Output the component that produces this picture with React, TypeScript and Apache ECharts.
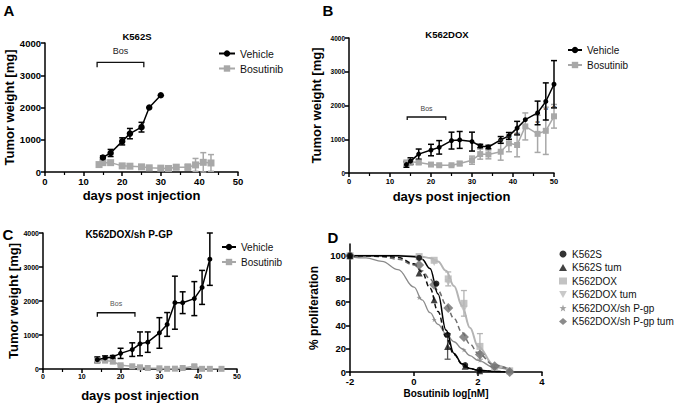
import React, { useEffect, useRef } from 'react';
import * as echarts from 'echarts';

const FONT = '"Liberation Sans", Arial, Helvetica, sans-serif';
const BLACK = '#000000';
const GRAY = '#a8a8a8';

// ---------- Panel A : K562S ----------
const aVehDays = [15, 17, 20, 22, 25, 27, 30];
const aVehMean = [450, 590, 950, 1190, 1390, 2000, 2380];
const aVehErr = [50, 110, 110, 160, 150, 0, 0];
const aBosDays = [14, 15, 17, 20, 22, 25, 27, 30, 32, 34, 37, 39, 41, 43];
const aBosMean = [230, 290, 290, 190, 180, 160, 130, 120, 110, 150, 150, 220, 300, 280];
const aBosErr = [40, 30, 40, 20, 20, 20, 20, 30, 20, 70, 90, 200, 300, 260];
const aBracket = [13.5, 25.6, 3400];

// ---------- Panel B : K562DOX ----------
const bVehDays = [14, 15, 17, 20, 22, 25, 27, 30, 32, 34, 37, 39, 41, 43, 46, 48, 50];
const bVehMean = [250, 350, 560, 680, 760, 960, 980, 930, 800, 770, 980, 1100, 1330, 1580, 1780, 2120, 2630];
const bVehErr = [80, 100, 150, 170, 200, 250, 250, 280, 50, 50, 100, 100, 200, 0, 350, 550, 700];
const bBosDays = [14, 15, 17, 20, 22, 25, 27, 30, 32, 34, 37, 39, 41, 43, 46, 48, 50];
const bBosMean = [300, 330, 310, 250, 230, 230, 280, 380, 560, 550, 630, 880, 830, 1380, 1160, 1250, 1680];
const bBosErr = [80, 60, 50, 20, 20, 20, 60, 120, 150, 130, 250, 250, 350, 400, 550, 700, 350];
const bBracket = [14.2, 23.6, 1660];
const bStarDays = [37, 39, 41, 46, 48, 50];
const bStarY = [960, 1040, 1120, 1480, 1880, 1930];

// ---------- Panel C : K562DOX/sh P-GP ----------
const cVehDays = [14, 16, 18, 20, 23, 25, 27, 30, 32, 34, 36, 39, 41, 43];
const cVehMean = [275, 325, 355, 460, 570, 740, 790, 1060, 1310, 1950, 1950, 2070, 2400, 3230];
const cVehErr = [80, 60, 40, 150, 200, 350, 300, 450, 350, 780, 320, 500, 500, 770];
const cBosDays = [14, 16, 18, 20, 23, 25, 27, 30, 32, 34, 36, 39, 41, 43, 46];
const cBosMean = [250, 250, 220, 110, 80, 50, 30, 20, 5, 10, 30, 80, 5, 5, 5];
const cBosErr = [80, 60, 60, 20, 0, 0, 0, 0, 0, 0, 0, 40, 0, 0, 0];
const cBracket = [14.0, 23.7, 1655];

// ---------- Panel D : dose response ----------
const dK562SConc = [-2, 0.16, 0.7, 1.05, 1.6, 2.05];
const dK562SResp = [100, 98, 76, 32, 6, 2];
const dK562STumConc = [-2, 0.16, 0.63, 1.05, 1.6, 2.05];
const dK562STumResp = [100, 85, 62, 22, 5, 1];
const dK562STumErr = [0, 0, 0, 11, 0, 0];
const dDoxConc = [-2, 0.16, 0.63, 1.07, 1.56, 2.06, 2.52, 2.99];
const dDoxResp = [100, 99, 96, 80, 59, 22, 4, 1];
const dDoxErr = [0, 0, 0, 6, 11, 11, 0, 0];
const dDoxTumConc = [0.16, 0.63, 1.07, 1.56, 2.06];
const dDoxTumResp = [99, 94, 77, 54, 15];
const dShConc = [-2, 0.16, 0.63, 1.07, 1.56, 2.06, 2.52, 2.99];
const dShResp = [99, 64, 45, 32, 19, 10, 4, 1];
const dShTumConc = [-2, 0.16, 0.63, 1.07, 1.56, 2.06, 2.52, 2.99];
const dShTumResp = [100, 92, 75, 55, 30, 15, 5, 0];

// fitted curves at these log concentrations
const dFitX = [-2, -1.5, -1, -0.5, 0, 0.25, 0.5, 0.75, 1, 1.25, 1.5, 1.75, 2, 2.5, 3];
const dFitK562S = [100, 100, 100, 99.8, 99, 97, 89, 67, 36, 16, 7, 3, 1.5, 0.5, 0];
const dFitK562STum = [100, 100, 99.5, 98.5, 93, 86, 72, 52, 30, 15, 7, 3, 1.5, 0.5, 0];
const dFitDox = [100, 100, 100, 99.8, 99.6, 99, 98, 95, 87, 74, 57, 38, 22, 6, 1.5];
const dFitSh = [99, 98, 95, 88, 73, 62, 51, 41, 33, 26, 20, 14, 10, 4, 1.5];
const dFitShTum = [100, 99.8, 99, 97, 92, 87, 80, 70, 58, 46, 34, 24, 16, 6, 2];

const D_LIGHT = '#b4b4b4';
const D_TUMLIGHT = '#bcbcbc';
const D_MID = '#8a8a8a';
const D_DARK = '#6e6e6e';

const INV_TRI = 'path://M0,0L10,0L5,9Z';
const STAR = 'path://M5,0L6.2,3.6L10,3.8L7,6.1L8.1,9.8L5,7.6L1.9,9.8L3,6.1L0,3.8L3.8,3.6Z';

function pairs(xs: number[], ys: number[]) {
  return xs.map((x, i) => [x, ys[i]]);
}

function lineSeries(name: string, gi: number, xs: number[], ys: number[], color: string, symbol: string, size: number, lw: number, z = 3) {
  return {
    type: 'line', name, xAxisIndex: gi, yAxisIndex: gi, data: pairs(xs, ys),
    symbol, symbolSize: size, showSymbol: true, z,
    lineStyle: { color, width: lw }, itemStyle: { color },
    emphasis: { disabled: true },
  };
}

function errSeries(id: string, gi: number, xs: number[], ms: number[], es: number[], color: string, cap: number, lw: number, z = 2) {
  const data = xs.map((x, i) => [x, Math.max(0, ms[i] - es[i]), ms[i] + es[i], es[i]]).filter((d) => d[3] > 0);
  return {
    type: 'custom', name: id, xAxisIndex: gi, yAxisIndex: gi, data, z, silent: true,
    encode: { x: 0, y: [1, 2] },
    renderItem: (params: any, api: any) => {
      const x = api.value(0);
      const lo = api.coord([x, api.value(1)]);
      const hi = api.coord([x, api.value(2)]);
      const st = { stroke: color, lineWidth: lw };
      return {
        type: 'group',
        children: [
          { type: 'line', shape: { x1: lo[0], y1: lo[1], x2: hi[0], y2: hi[1] }, style: st },
          { type: 'line', shape: { x1: hi[0] - cap, y1: hi[1], x2: hi[0] + cap, y2: hi[1] }, style: st },
          { type: 'line', shape: { x1: lo[0] - cap, y1: lo[1], x2: lo[0] + cap, y2: lo[1] }, style: st },
        ],
      };
    },
  };
}

function bracketSeries(id: string, gi: number, br: number[], tick: number, gap: number, font: string, color: string) {
  return {
    type: 'custom', name: id, xAxisIndex: gi, yAxisIndex: gi, data: [br], silent: true, z: 4,
    encode: { x: [0, 1], y: 2 },
    renderItem: (params: any, api: any) => {
      const p1 = api.coord([api.value(0), api.value(2)]);
      const p2 = api.coord([api.value(1), api.value(2)]);
      return {
        type: 'group',
        children: [
          {
            type: 'polyline',
            shape: { points: [[p1[0], p1[1] + tick], [p1[0], p1[1]], [p2[0], p2[1]], [p2[0], p2[1] + tick]] },
            style: { stroke: '#111', lineWidth: 1.3, fill: 'none' },
          },
          {
            type: 'text', x: (p1[0] + p2[0]) / 2, y: p1[1] - gap,
            style: { text: 'Bos', font, fill: color, align: 'center', verticalAlign: 'middle' },
          },
        ],
      };
    },
  };
}

function starSeries(id: string, gi: number, xs: number[], ys: number[]) {
  return {
    type: 'custom', name: id, xAxisIndex: gi, yAxisIndex: gi, data: pairs(xs, ys), silent: true, z: 5,
    encode: { x: 0, y: 1 },
    renderItem: (params: any, api: any) => {
      const p = api.coord([api.value(0), api.value(1)]);
      return {
        type: 'text', x: p[0], y: p[1],
        style: { text: '**', font: `bold 6px ${FONT}`, fill: '#333', align: 'center', verticalAlign: 'middle' },
      };
    },
  };
}

function axisBase(labelSize: number) {
  return {
    axisLine: { show: true, onZero: false, lineStyle: { color: BLACK, width: 1.5 } },
    axisTick: { show: true, length: 4, lineStyle: { color: BLACK, width: 1.5 } },
    axisLabel: {
      fontFamily: FONT, fontWeight: 'bold', fontSize: labelSize, color: BLACK, margin: 4,
      formatter: (v: number) => String(v),
    },
    splitLine: { show: false },
  };
}

function xAx(gi: number, min: number, max: number, interval: number, labelSize: number, name: string, nameGap: number, nameSize: number, minor: boolean) {
  return {
    type: 'value', gridIndex: gi, min, max, interval, name, nameLocation: 'middle', nameGap,
    nameTextStyle: { fontFamily: FONT, fontWeight: 'bold', fontSize: nameSize, color: BLACK },
    ...axisBase(labelSize),
    minorTick: { show: minor, splitNumber: 2, length: 3, lineStyle: { color: BLACK, width: 1.2 } },
  };
}

function yAx(gi: number, min: number, max: number, interval: number, labelSize: number, name: string, nameGap: number, nameSize: number) {
  return {
    type: 'value', gridIndex: gi, min, max, interval, name, nameLocation: 'middle', nameGap, nameRotate: 90,
    nameTextStyle: { fontFamily: FONT, fontWeight: 'bold', fontSize: nameSize, color: BLACK },
    ...axisBase(labelSize),
  };
}

function txt(text: string, x: number, y: number, font: string, fill = BLACK) {
  return { type: 'text', x, y, silent: true, style: { text, font, fill, align: 'center', verticalAlign: 'middle' } };
}

function buildOption() {
  const legendText = { fontFamily: FONT, fontSize: 10, color: '#111' };
  const dYTicks = [0, 20, 40, 60, 80, 100];
  const yD: any = yAx(3, 0, 110, 20, 9.5, '% proliferation', 30, 12);
  yD.axisLabel = { ...yD.axisLabel, customValues: dYTicks, formatter: (v: number) => (v > 100 ? '' : String(v)) };
  yD.axisTick = { ...yD.axisTick, customValues: dYTicks };

  return {
    animation: false,
    backgroundColor: '#ffffff',
    grid: [
      { left: 45, top: 43, width: 193, height: 129 },
      { left: 349, top: 38, width: 205, height: 135 },
      { left: 43, top: 233, width: 194, height: 136 },
      { left: 350, top: 244, width: 192, height: 128 },
    ],
    xAxis: [
      xAx(0, 0, 50, 10, 9.5, 'days post injection', 17, 13, true),
      xAx(1, 0, 50, 10, 7.5, 'days post injection', 17, 13, true),
      xAx(2, 0, 50, 10, 7, 'days post injection', 20, 13, true),
      xAx(3, -2, 4, 2, 9.5, 'Bosutinib log[nM]', 16, 10, false),
    ],
    yAxis: [
      yAx(0, 0, 4000, 1000, 9.5, 'Tumor weight [mg]', 25, 13),
      yAx(1, 0, 4000, 1000, 6.5, 'Tumor weight [mg]', 26, 13),
      yAx(2, 0, 4000, 1000, 7, 'Tumor weight [mg]', 23, 13),
      yD,
    ],
    legend: [
      {
        left: 218, top: 48, orient: 'vertical', padding: 0, itemGap: 4, itemWidth: 16, itemHeight: 8,
        selectedMode: false, data: ['Vehicle', 'Bosutinib'], textStyle: { ...legendText, fontSize: 10.5 },
      },
      {
        left: 567, top: 45, orient: 'vertical', padding: 0, itemGap: 5, itemWidth: 14, itemHeight: 8,
        selectedMode: false, data: ['Vehicle', 'Bosutinib'], textStyle: legendText,
      },
      {
        left: 221, top: 242, orient: 'vertical', padding: 0, itemGap: 5, itemWidth: 14, itemHeight: 8,
        selectedMode: false, data: ['Vehicle', 'Bosutinib'], textStyle: legendText,
      },
      {
        left: 559, top: 249, orient: 'vertical', padding: 0, itemGap: 3.5, itemWidth: 8, itemHeight: 7,
        selectedMode: false, textStyle: legendText,
        data: [
          { name: 'K562S', icon: 'circle' },
          { name: 'K562S tum', icon: 'triangle' },
          { name: 'K562DOX', icon: 'rect' },
          { name: 'K562DOX tum', icon: INV_TRI },
          { name: 'K562DOX/sh P-gp', icon: STAR },
          { name: 'K562DOX/sh P-gp tum', icon: 'diamond' },
        ],
      },
    ],
    graphic: [
      txt('A', 9, 10, `bold 15px ${FONT}`),
      txt('B', 328, 10, `bold 15px ${FONT}`),
      txt('C', 8, 234, `bold 15px ${FONT}`),
      txt('D', 333, 237, `bold 15px ${FONT}`),
      txt('K562S', 137, 36, `bold 9.5px ${FONT}`),
      txt('K562DOX', 447, 34, `bold 9.5px ${FONT}`),
      txt('K562DOX/sh P-GP', 129, 234, `bold 10px ${FONT}`),
    ],
    series: [
      // A
      errSeries('errA-bos', 0, aBosDays, aBosMean, aBosErr, GRAY, 3, 1.5),
      lineSeries('Bosutinib', 0, aBosDays, aBosMean, GRAY, 'rect', 7, 1.5),
      errSeries('errA-veh', 0, aVehDays, aVehMean, aVehErr, BLACK, 3, 1.5),
      lineSeries('Vehicle', 0, aVehDays, aVehMean, BLACK, 'circle', 6.5, 1.5, 4),
      bracketSeries('brA', 0, aBracket, 5, 11, `9px ${FONT}`, '#222'),
      // B
      errSeries('errB-bos', 1, bBosDays, bBosMean, bBosErr, GRAY, 3, 1.5),
      lineSeries('Bosutinib', 1, bBosDays, bBosMean, GRAY, 'rect', 6, 1.5),
      errSeries('errB-veh', 1, bVehDays, bVehMean, bVehErr, BLACK, 3, 1.5),
      lineSeries('Vehicle', 1, bVehDays, bVehMean, BLACK, 'circle', 5, 1.5, 4),
      bracketSeries('brB', 1, bBracket, 3, 8, `7px ${FONT}`, '#444'),
      starSeries('starsB', 1, bStarDays, bStarY),
      // C
      errSeries('errC-bos', 2, cBosDays, cBosMean, cBosErr, GRAY, 3, 1.5),
      lineSeries('Bosutinib', 2, cBosDays, cBosMean, GRAY, 'rect', 6, 1.5),
      errSeries('errC-veh', 2, cVehDays, cVehMean, cVehErr, BLACK, 3, 1.5),
      lineSeries('Vehicle', 2, cVehDays, cVehMean, BLACK, 'circle', 5, 1.5, 4),
      bracketSeries('brC', 2, cBracket, 4, 9, `7px ${FONT}`, '#555'),
      // D fitted curves
      { type: 'line', name: 'fitDox', xAxisIndex: 3, yAxisIndex: 3, data: pairs(dFitX, dFitDox), showSymbol: false, smooth: 0.4, smoothMonotone: 'x', lineStyle: { color: D_LIGHT, width: 2 }, z: 2, silent: true },
      { type: 'line', name: 'fitSh', xAxisIndex: 3, yAxisIndex: 3, data: pairs(dFitX, dFitSh), showSymbol: false, smooth: 0.4, smoothMonotone: 'x', lineStyle: { color: D_MID, width: 1.3 }, z: 2, silent: true },
      { type: 'line', name: 'fitShTum', xAxisIndex: 3, yAxisIndex: 3, data: pairs(dFitX, dFitShTum), showSymbol: false, smooth: 0.4, smoothMonotone: 'x', lineStyle: { color: D_DARK, width: 1.5, type: [5, 3] }, z: 2, silent: true },
      { type: 'line', name: 'fitK562STum', xAxisIndex: 3, yAxisIndex: 3, data: pairs(dFitX, dFitK562STum), showSymbol: false, smooth: 0.4, smoothMonotone: 'x', lineStyle: { color: '#111', width: 1.5, type: [5, 3] }, z: 2, silent: true },
      { type: 'line', name: 'fitK562S', xAxisIndex: 3, yAxisIndex: 3, data: pairs(dFitX, dFitK562S), showSymbol: false, smooth: 0.4, smoothMonotone: 'x', lineStyle: { color: BLACK, width: 1.5 }, z: 2, silent: true },
      // D error bars
      errSeries('errD-dox', 3, dDoxConc, dDoxResp, dDoxErr, D_LIGHT, 3, 1.3),
      errSeries('errD-tum', 3, dK562STumConc, dK562STumResp, dK562STumErr, '#555', 3, 1.3),
      // D points
      { type: 'scatter', name: 'K562DOX', xAxisIndex: 3, yAxisIndex: 3, data: pairs(dDoxConc, dDoxResp), symbol: 'rect', symbolSize: 7, itemStyle: { color: D_LIGHT }, z: 3 },
      { type: 'scatter', name: 'K562DOX tum', xAxisIndex: 3, yAxisIndex: 3, data: pairs(dDoxTumConc, dDoxTumResp), symbol: INV_TRI, symbolSize: 7, itemStyle: { color: D_TUMLIGHT }, z: 3 },
      { type: 'scatter', name: 'K562DOX/sh P-gp', xAxisIndex: 3, yAxisIndex: 3, data: pairs(dShConc, dShResp), symbol: STAR, symbolSize: 5, itemStyle: { color: D_MID }, z: 3 },
      { type: 'scatter', name: 'K562DOX/sh P-gp tum', xAxisIndex: 3, yAxisIndex: 3, data: pairs(dShTumConc, dShTumResp), symbol: 'diamond', symbolSize: 10, itemStyle: { color: D_DARK }, z: 3 },
      { type: 'scatter', name: 'K562S tum', xAxisIndex: 3, yAxisIndex: 3, data: pairs(dK562STumConc, dK562STumResp), symbol: 'triangle', symbolSize: 7, itemStyle: { color: '#111' }, z: 4 },
      { type: 'scatter', name: 'K562S', xAxisIndex: 3, yAxisIndex: 3, data: pairs(dK562SConc, dK562SResp), symbol: 'circle', symbolSize: 6, itemStyle: { color: BLACK }, z: 4 },
    ],
  };
}

export default function App() {
  const ref = useRef<HTMLDivElement>(null);
  useEffect(() => {
    if (!ref.current) return;
    const chart = echarts.init(ref.current, null, { renderer: 'svg' });
    chart.setOption(buildOption() as any);
    return () => chart.dispose();
  }, []);
  return (
    <div
      ref={ref}
      style={{ position: 'absolute', left: 0, top: 0, width: 685, height: 405, background: '#ffffff' }}
    />
  );
}
